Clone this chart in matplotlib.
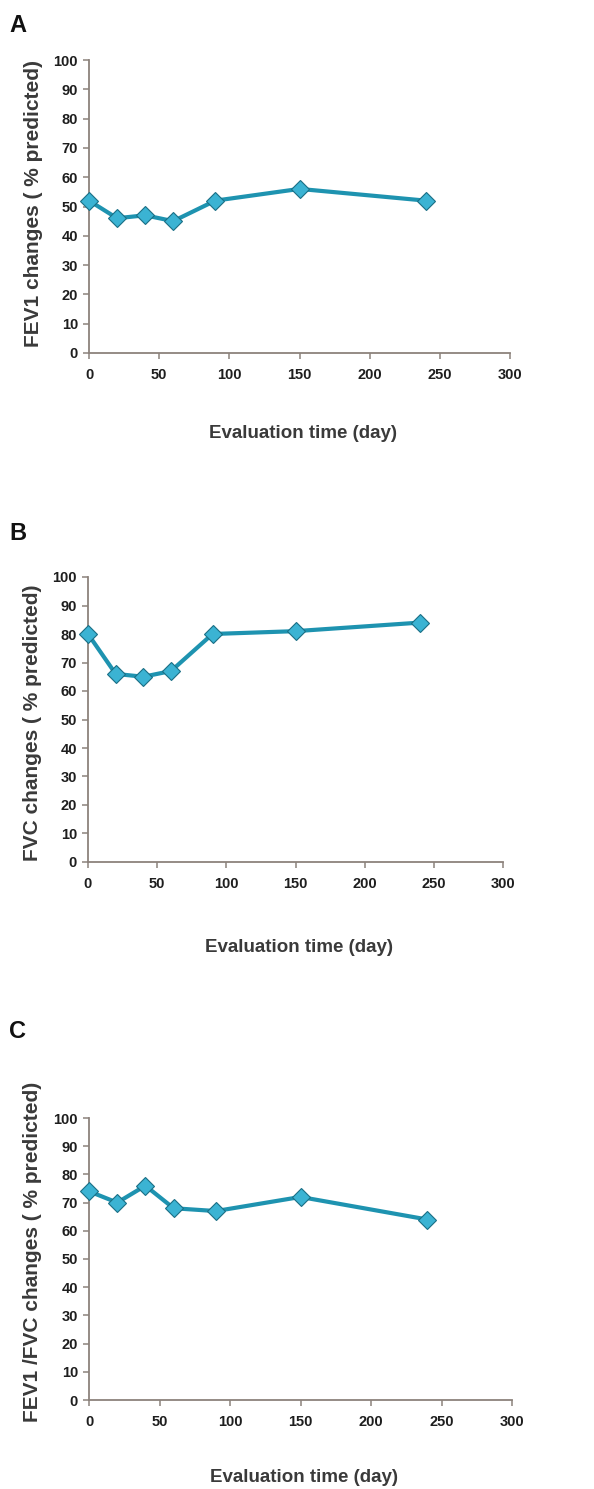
import matplotlib
matplotlib.use("Agg")
import matplotlib.pyplot as plt

days = [0, 20, 40, 60, 90, 150, 240]
fev1 = [52, 46, 47, 45, 52, 56, 52]
fvc = [80, 66, 65, 67, 80, 81, 84]
fev1_fvc = [74, 70, 76, 68, 67, 72, 64]

panel_letters = ["A", "B", "C"]
y_labels = ["FEV1 changes ( % predicted)", "FVC changes ( % predicted)",
            "FEV1 /FVC changes ( % predicted)"]
x_label = "Evaluation time (day)"
x_ticks = [0, 50, 100, 150, 200, 250, 300]
y_ticks = [0, 10, 20, 30, 40, 50, 60, 70, 80, 90, 100]

plt.rcParams['font.family'] = ['Liberation Sans', 'DejaVu Sans']

W, H = 594, 1489
fig = plt.figure(figsize=(W / 100, H / 100), dpi=100)

# axes pixel boxes: left, right, y_top(100), y_bottom(0)
boxes = [(89, 510, 60, 353), (88, 503, 577, 862), (89, 512, 1118, 1400)]
letter_y = [25, 533, 1032]
xlab_off = [80, 86, 78]
ylab_center = [0.51, 0.49, 0.525]
series = [fev1, fvc, fev1_fvc]

line_c = '#1e93b0'
mark_c = '#3bb3d3'
spine_c = '#8c827c'
txt_c = '#3a3a3a'

for i in range(3):
    l, r, t, b = boxes[i]
    ax = fig.add_axes([l / W, 1 - b / H, (r - l) / W, (b - t) / H])
    ax.plot(days, series[i], color=line_c, lw=3, marker='D', ms=9,
            mfc=mark_c, mec='#1a6f85', mew=0.8, clip_on=False, zorder=3)
    ax.set_xlim(0, 300)
    ax.set_ylim(0, 100)
    ax.set_xticks(x_ticks)
    ax.set_yticks(y_ticks)
    for s in ['top', 'right']:
        ax.spines[s].set_visible(False)
    for s in ['left', 'bottom']:
        ax.spines[s].set_color(spine_c)
        ax.spines[s].set_linewidth(1.3)
    ax.tick_params(axis='both', direction='out', length=4, width=1.1,
                   color=spine_c, labelsize=10.5, labelcolor='#1e1e1e')
    ax.tick_params(axis='x', pad=7)
    ax.tick_params(axis='y', pad=4)
    for lab in ax.get_xticklabels() + ax.get_yticklabels():
        lab.set_fontweight('bold')
    ax.set_ylabel(y_labels[i], fontsize=15, fontweight='bold', color=txt_c,
                  va='center')
    ax.yaxis.set_label_coords(-0.133, ylab_center[i])
    ax.set_xlabel(x_label, fontsize=13.5, fontweight='bold', color=txt_c, va='center')
    ax.xaxis.set_label_coords(0.508, -xlab_off[i] / (b - t))
    fig.text(9 / W, 1 - letter_y[i] / H, panel_letters[i], fontsize=17,
             fontweight='bold', color='#111111', va='center', ha='left')

fig.savefig('out.png', dpi=100)
